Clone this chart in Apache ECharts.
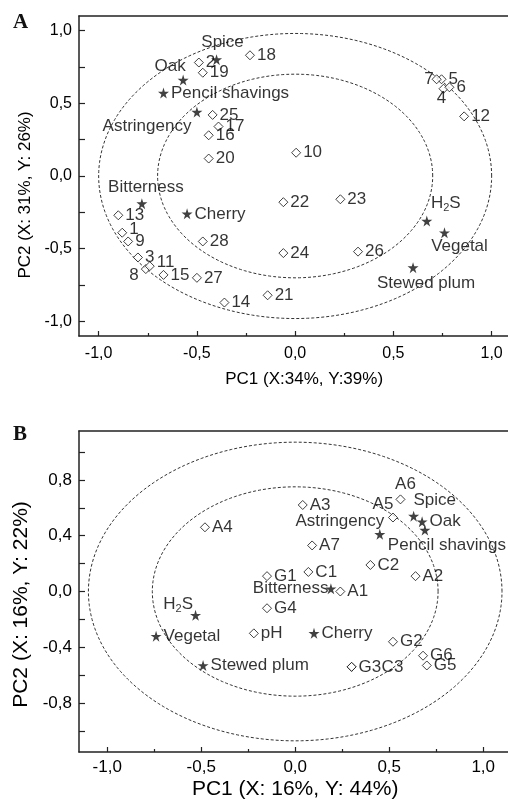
<!DOCTYPE html>
<html>
<head>
<meta charset="utf-8">
<script src="https://cdn.jsdelivr.net/npm/echarts@6/dist/echarts.min.js"></script>
<style>
  html, body { margin: 0; padding: 0; background: #fff; }
  #chart { width: 508px; height: 811px; }
</style>
</head>
<body>
<div id="chart"></div>
<script>
// ---- panel A : samples (diamonds) ----
const sampleNamesA = ['1', '2', '3', '4', '5', '6', '7', '8', '9', '10', '11', '12', '13', '14',
  '15', '16', '17', '18', '19', '20', '21', '22', '23', '24', '25', '26', '27', '28']
const sampleXA = [-0.88, -0.49, -0.80, 0.755, 0.745, 0.785, 0.72, -0.76, -0.85, 0.005, -0.74, 0.86, -0.90, -0.36,
  -0.67, -0.44, -0.39, -0.23, -0.47, -0.44, -0.14, -0.06, 0.23, -0.06, -0.42, 0.32, -0.50, -0.47]
const sampleYA = [-0.39, 0.78, -0.56, 0.60, 0.665, 0.61, 0.665, -0.64, -0.45, 0.16, -0.62, 0.41, -0.27, -0.87,
  -0.68, 0.28, 0.34, 0.83, 0.71, 0.12, -0.82, -0.18, -0.16, -0.53, 0.42, -0.52, -0.70, -0.45]

// ---- panel A : attributes (stars) ----
const attrNamesA = ['Spice', 'Oak', 'Pencil shavings', 'Astringency', 'Bitterness', 'Cherry', 'H2S', 'Vegetal', 'Stewed plum']
const attrXA = [-0.40, -0.57, -0.67, -0.50, -0.78, -0.55, 0.67, 0.76, 0.60]
const attrYA = [0.80, 0.66, 0.57, 0.44, -0.19, -0.26, -0.31, -0.39, -0.63]

// ---- panel B : samples (diamonds) ----
const sampleNamesB = ['A1', 'A2', 'A3', 'A4', 'A5', 'A6', 'A7', 'C1', 'C2', 'C3', 'G1', 'G2', 'G3', 'G4', 'G5', 'G6', 'pH']
const sampleXB = [0.24, 0.64, 0.04, -0.48, 0.52, 0.56, 0.09, 0.07, 0.40, 0.30, -0.15, 0.52, 0.30, -0.15, 0.70, 0.68, -0.22]
const sampleYB = [0.00, 0.11, 0.62, 0.46, 0.53, 0.66, 0.33, 0.14, 0.19, -0.54, 0.11, -0.36, -0.54, -0.12, -0.53, -0.46, -0.30]

// ---- panel B : attributes (stars) ----
const attrNamesB = ['Spice', 'Oak', 'Pencil shavings', 'Astringency', 'Bitterness', 'Cherry', 'H2S', 'Vegetal', 'Stewed plum']
const attrXB = [0.63, 0.675, 0.69, 0.45, 0.19, 0.10, -0.53, -0.74, -0.49]
const attrYB = [0.54, 0.50, 0.44, 0.41, 0.02, -0.30, -0.17, -0.32, -0.53]

// correlation circles [rx, ry] in axis units
const circlesA = [[0.70, 0.70], [1.0, 0.98]]
const circlesB = [[0.76, 0.75], [1.10, 1.07]]

// ticks / labels
const xLabelsA = [-1.0, -0.5, 0, 0.5, 1.0]
const xMinorA = [-0.75, -0.25, 0.25, 0.75]
const yLabelsA = [-1.0, -0.5, 0, 0.5, 1.0]
const yTicksA = [-1.0, -0.75, -0.5, -0.25, 0, 0.25, 0.5, 0.75, 1.0]
const xLabelsB = [-1.0, -0.5, 0, 0.5, 1.0]
const xMinorB = [-0.75, -0.25, 0.25, 0.75]
const yLabelsB = [-0.8, -0.4, 0, 0.4, 0.8]
const yTicksB = [-1.0, -0.8, -0.6, -0.4, -0.2, 0, 0.2, 0.4, 0.6, 0.8, 1.0]

const FONT = '"Liberation Sans", Arial, Helvetica, sans-serif'
const INK = '#000'

// label placement per point (default: right of the marker)
const placeA = {
  '1': { offset: [0, -3] },
  '4': { position: 'bottom', distance: 0, offset: [-2, -4] },
  '7': { position: 'left', offset: [4, 0] },
  '8': { position: 'left', offset: [0, 6] },
  '11': { offset: [0, -4] },
  'Spice': { position: 'top', distance: 3, offset: [6, 0] },
  'Oak': { position: 'top', offset: [-13, 2] },
  'Astringency': { position: 'left', offset: [2, 14] },
  'Bitterness': { position: 'top', offset: [4, 0] },
  'H2S': { position: 'top', offset: [19, 0] },
  'Vegetal': { position: 'bottom', distance: 2, offset: [15, -2] },
  'Stewed plum': { position: 'bottom', distance: 2, offset: [13, 0] }
}
const placeB = {
  'A5': { position: 'top', offset: [-10, 2] },
  'A6': { position: 'top', offset: [5, 0] },
  'C3': { offset: [23, 0] },
  'Spice': { position: 'top', offset: [21, 0] },
  'Astringency': { position: 'top', offset: [-40, 3] },
  'Pencil shavings': { position: 'bottom', distance: 2, offset: [22, -1] },
  'Bitterness': { position: 'left', offset: [5, 0] },
  'H2S': { position: 'left', offset: [5, -11] }
}

const STAR = 'path://M50,0 L61,35 L98,35 L68,57 L79,91 L50,70 L21,91 L32,57 L2,35 L39,35 Z'

function fmt(v) {
  return v.toFixed(1).replace('.', ',')
}

function pointData(names, xs, ys, place) {
  return names.map(function(n, i) {
    const p = place[n] || {}
    return {
      name: n,
      value: [xs[i], ys[i]],
      label: {
        position: p.position || 'right',
        distance: p.distance !== undefined ? p.distance : 2,
        offset: p.offset || [0, 0]
      }
    }
  })
}

const labelBase = {
  show: true,
  color: INK,
  fontFamily: FONT,
  fontSize: 17,
  formatter: function(p) {
    return p.name === 'H2S' ? '{t|H}{s|2}{t|S}' : '{t|' + p.name + '}'
  },
  rich: {
    t: { fontSize: 17, fontFamily: FONT, color: INK },
    s: { fontSize: 11, fontFamily: FONT, color: INK, padding: [9, 0, 0, 0] }
  }
}

function ringItem(params, api) {
  const rx = api.value(2)
  const ry = api.value(3)
  const pts = []
  for (let k = 0; k <= 200; k++) {
    const t = k / 200 * Math.PI * 2
    pts.push(api.coord([rx * Math.cos(t), ry * Math.sin(t)]))
  }
  return {
    type: 'polyline',
    shape: { points: pts },
    style: { fill: null, stroke: '#333', lineWidth: 1, lineDash: [3, 2] }
  }
}

function xAxes(grid, min, max, labels, minor, labelSize, margin, name, nameSize, nameGap, namePad) {
  const line = { show: true, onZero: false, lineStyle: { color: '#222', width: 1.5 }}
  return [
    {
      gridIndex: grid, type: 'value', position: 'bottom', min: min, max: max,
      axisLine: line,
      axisTick: { show: true, inside: true, length: 5, customValues: labels, lineStyle: { color: '#222', width: 1.2 }},
      axisLabel: { show: true, customValues: labels, formatter: fmt, color: INK, fontFamily: FONT, fontSize: labelSize, margin: margin, hideOverlap: false },
      splitLine: { show: false },
      name: name, nameLocation: 'middle', nameGap: nameGap,
      nameTextStyle: { color: INK, fontFamily: FONT, fontSize: nameSize, padding: namePad }
    },
    {
      gridIndex: grid, type: 'value', position: 'bottom', min: min, max: max,
      axisLine: { show: false, onZero: false },
      axisTick: { show: true, inside: true, length: 3, customValues: minor, lineStyle: { color: '#222', width: 1.2 }},
      axisLabel: { show: false },
      splitLine: { show: false }
    },
    {
      gridIndex: grid, type: 'value', position: 'top', min: min, max: max,
      axisLine: line,
      axisTick: { show: false },
      axisLabel: { show: false },
      splitLine: { show: false }
    }
  ]
}

function yAxis(grid, min, max, labels, ticks, labelSize, name, nameSize, nameGap, namePad) {
  return {
    gridIndex: grid, type: 'value', position: 'left', min: min, max: max,
    axisLine: { show: true, onZero: false, lineStyle: { color: '#222', width: 1.5 }},
    axisTick: { show: true, inside: true, length: 6, customValues: ticks, lineStyle: { color: '#222', width: 1.2 }},
    axisLabel: { show: true, customValues: labels, formatter: fmt, color: INK, fontFamily: FONT, fontSize: labelSize, margin: 7, hideOverlap: false },
    splitLine: { show: false },
    name: name, nameLocation: 'middle', nameGap: nameGap,
    nameTextStyle: { color: INK, fontFamily: FONT, fontSize: nameSize, padding: namePad }
  }
}

function panelSeries(xIdx, yIdx, circles, sNames, sx, sy, aNames, ax, ay, place) {
  return [
    {
      type: 'custom', xAxisIndex: xIdx, yAxisIndex: yIdx, silent: true,
      renderItem: ringItem,
      encode: { x: 0, y: 1 },
      data: circles.map(function(r) { return [0, 0, r[0], r[1]] })
    },
    {
      type: 'scatter', xAxisIndex: xIdx, yAxisIndex: yIdx, silent: true,
      symbol: 'diamond', symbolSize: 9,
      itemStyle: { color: '#fff', borderColor: '#111', borderWidth: 1 },
      label: labelBase,
      data: pointData(sNames, sx, sy, place)
    },
    {
      type: 'scatter', xAxisIndex: xIdx, yAxisIndex: yIdx, silent: true,
      symbol: STAR, symbolSize: 11,
      itemStyle: { color: '#111' },
      label: labelBase,
      data: pointData(aNames, ax, ay, place)
    }
  ]
}

const chart = echarts.init(document.getElementById('chart'), null, { renderer: 'canvas' })

chart.setOption({
  backgroundColor: '#fff',
  animation: false,
  textStyle: { fontFamily: FONT },
  grid: [
    { left: 79, top: 16, width: 432.3, height: 320, containLabel: false, outerBoundsMode: 'none' },
    { left: 79, top: 431, width: 432.4, height: 321, containLabel: false, outerBoundsMode: 'none' }
  ],
  xAxis: [].concat(
    xAxes(0, -1.1, 1.1, xLabelsA, xMinorA, 16, 10, 'PC1 (X:34%, Y:39%)', 17, 35, [0, 0, 0, 18]),
    xAxes(1, -1.15, 1.15, xLabelsB, xMinorB, 17, 7, 'PC1 (X: 16%, Y: 44%)', 21, 27, [0, 0, 0, 0])
  ),
  yAxis: [
    yAxis(0, -1.1, 1.1, yLabelsA, yTicksA, 16, 'PC2 (X: 31%, Y: 26%)', 17, 39, [0, 38, 0, 0]),
    yAxis(1, -1.15, 1.15, yLabelsB, yTicksB, 17, 'PC2 (X: 16%, Y: 22%)', 21, 46, [0, 26, 0, 0])
  ],
  graphic: [
    { type: 'text', left: 13, top: 12, style: { text: 'A', font: 'bold 21px "Liberation Serif", "Times New Roman", serif', fill: '#111' }},
    { type: 'text', left: 13, top: 424, style: { text: 'B', font: 'bold 21px "Liberation Serif", "Times New Roman", serif', fill: '#111' }}
  ],
  series: [].concat(
    panelSeries(0, 0, circlesA, sampleNamesA, sampleXA, sampleYA, attrNamesA, attrXA, attrYA, placeA),
    panelSeries(3, 1, circlesB, sampleNamesB, sampleXB, sampleYB, attrNamesB, attrXB, attrYB, placeB)
  )
})
</script>
</body>
</html>
